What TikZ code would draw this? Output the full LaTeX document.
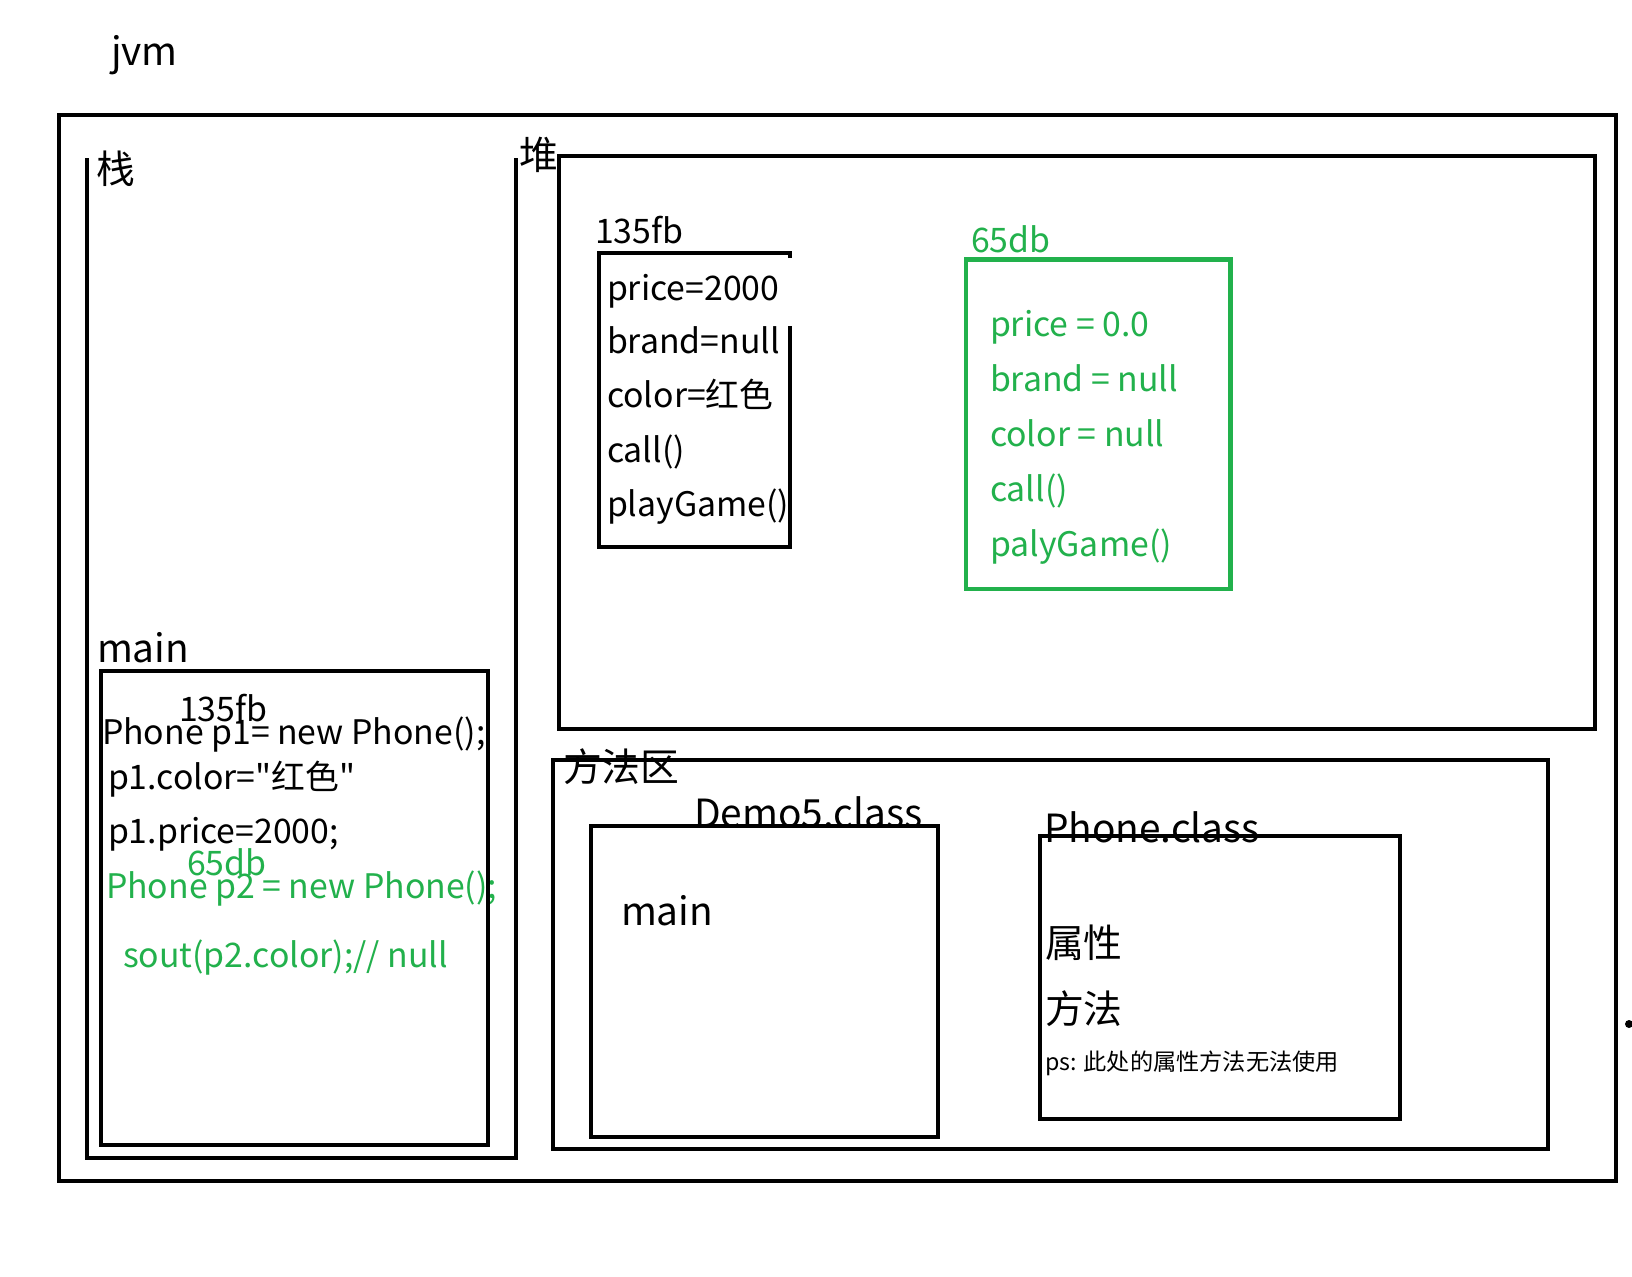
\documentclass[tikz,border=0pt]{standalone}
\usepackage{fontspec}
\setmainfont{Noto Sans CJK SC}[Ligatures=TeXOff]
\definecolor{pgreen}{HTML}{22B14C}
\begin{document}
\begin{tikzpicture}[x=0.5pt,y=-0.5pt,
  box/.style={draw=black,line width=2pt},
  gbox/.style={draw=pgreen,line width=2.2pt},
  txt/.style={anchor=base west,inner sep=0pt,outer sep=0pt,font=\fontsize{16.9}{20}\selectfont},
  big/.style={anchor=base west,inner sep=0pt,outer sep=0pt,font=\fontsize{19.4}{24}\selectfont},
  cjk/.style={anchor=base west,inner sep=0pt,outer sep=0pt,font=\fontsize{19.4}{24}\selectfont},
  small/.style={anchor=base west,inner sep=0pt,outer sep=0pt,font=\fontsize{11.6}{14}\selectfont},
  grn/.style={text=pgreen}]
\useasboundingbox[fill=white] (0,0) rectangle (1632,1276);

% labels
\node[big] (jvm) at (111,65) {jvm};
\node[cjk] (zhan) at (96,183) {栈};
\node[cjk] (dui) at (519,169) {堆};

% heap object 135fb
\node[txt] (o1lab) at (595,243) {135fb};
\node[txt] (o1a) at (607,300) {price=2000};
\node[txt] (o1b) at (607,353) {brand=null};
\node[txt] (o1c) at (607,407) {color=红色};
\node[txt] (o1d) at (607,462) {call()};
\node[txt] (o1e) at (607,516) {playGame()};

% heap object 65db
\node[txt,grn] (o2lab) at (971,252) {65db};
\node[txt,grn] (o2a) at (990,336) {price = 0.0};
\node[txt,grn] (o2b) at (990,391) {brand = null};
\node[txt,grn] (o2c) at (990,446) {color = null};
\node[txt,grn] (o2d) at (990,501) {call()};
\node[txt,grn] (o2e) at (990,556) {palyGame()};

% stack main frame
\node[big] (smain) at (97,662) {main};
\node[txt] (s135) at (179,721) {135fb};
\node[txt] (s1) at (102,744) {Phone p1= new Phone();};
\node[txt] (s2) at (108,789) {p1.color="红色"};
\node[txt] (s3) at (108,843) {p1.price=2000;};
\node[txt,grn] (s65) at (187,875) {65db};
\node[txt,grn] (s4) at (106,898) {Phone p2 = new Phone();};
\node[txt,grn] (s5) at (123,967) {sout(p2.color);// null};

% method area
\node[cjk] (ffq) at (563,781) {方法区};
\node[big] (demo) at (694,827) {Demo5.class};
\node[big] (dmain) at (621,925) {main};
\node[big] (phone) at (1044,842) {Phone.class};
\node[cjk] (sx) at (1045,957) {属性};
\node[cjk] (ff) at (1045,1023) {方法};
\node[small] (ps) at (1045,1070) {ps: 此处的属性方法无法使用};

% boxes
\draw[box] (59,114.5) rectangle (1616,1181);
\draw[box] (87,158) -- (87,1158) -- (515.5,1158) -- (515.5,158);
\draw[box] (100.5,671) rectangle (487.5,1145);
\draw[box] (559,156) rectangle (1595,728.5);
\draw[box] (790,258) -- (790,253) -- (599,253) -- (599,547) -- (790,547) -- (790,326);
\draw[gbox] (966,259.5) rectangle (1230.5,589);
\draw[box] (553,760) rectangle (1547.5,1149);
\draw[box] (590.5,826) rectangle (938,1136.5);
\draw[box] (1040,836) rectangle (1400,1119);

\fill[black] (1629,1024) circle (4);
\end{tikzpicture}
\end{document}
